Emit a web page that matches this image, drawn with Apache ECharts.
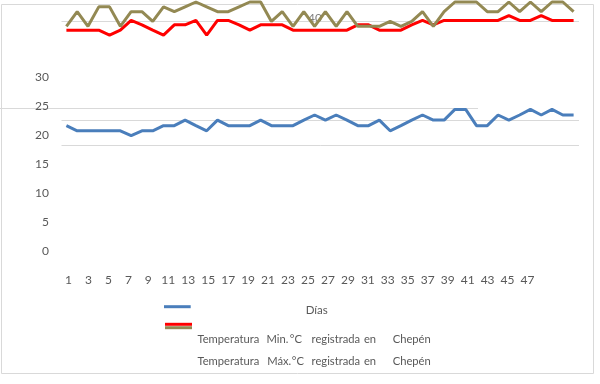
<!DOCTYPE html>
<html><head><meta charset="utf-8">
<script src="https://cdn.jsdelivr.net/npm/echarts@6/dist/echarts.min.js"></script>
<style>html,body{margin:0;padding:0;background:#fff}#c{width:600px;height:384px}</style>
</head><body><div id="c"></div>
<script>
// Categories (days)
const days = ['1','2','3','4','5','6','7','8','9','10','11','12','13','14','15','16','17','18','19','20','21','22','23','24',
  '25','26','27','28','29','30','31','32','33','34','35','36','37','38','39','40','41','42','43','44','45','46','47','48'];
// Y tick labels shown at left
const yTicks = [0,5,10,15,20,25,30];
// Series values (as plotted)
const seriesDias = [18.55,17.5,17.5,17.5,17.5,17.5,16.5,17.5,17.5,18.55,18.55,19.7,18.55,17.5,19.7,18.55,18.55,18.55,19.7,18.55,18.55,18.55,19.7,20.75,
  19.7,20.75,19.7,18.55,18.55,19.7,17.5,18.55,19.7,20.75,19.7,19.7,21.9,21.9,18.55,18.55,20.75,19.7,20.75,21.9,20.75,21.9,20.75,20.75];
const seriesMin = [38.2,38.2,38.2,38.2,37.2,38.2,40.2,39.3,38.2,37.2,39.3,39.3,40.2,37.2,40.2,40.2,39.3,38.2,39.3,39.3,39.3,38.2,38.2,38.2,
  38.2,38.2,38.2,39.3,39.3,38.2,38.2,38.2,39.3,40.2,39.3,40.2,40.2,40.2,40.2,40.2,40.2,41.2,40.2,40.2,41.2,40.2,40.2,40.2];
const seriesMax = [39,42,39,43,43,39,42,42,40,43,42,43,44,43,42,42,43,44,44,40,42,39,42,39,
  42,39,42,39,39,39,40,39,40,42,39,42,44,44,44,42,42,44,42,44,42,44,44,42];
const names = ['Días','Temperatura Min. °C registrada en Chepén','Temperatura Máx. °C registrada en Chepén'];
const colors = ['#4a7ebb','#ff0000','#938953'];

const TXT = '#595959', FONT = 'Lato';
// legend words (text, centre x) — justified layout
const legendWordsMin = [['Temperatura',228.3],['Min.',277.5],['°C',295.8],['registrada',335.8],['en',370],['Chepén',411.7]];
const legendWordsMax = [['Temperatura',228.3],['Máx.',279.2],['°C',297.8],['registrada',335.8],['en',370],['Chepén',411.7]];
function words(list, y){
  return list.map(([t,x]) => ({type:'text', x:x, y:y, silent:true,
    style:{text:t, fill:TXT, fontSize:11.2, fontFamily:FONT, align:'center', verticalAlign:'middle'}}));
}
const hidden = 'rgba(0,0,0,0)', gridC = '#d9d9d9';

const chart = echarts.init(document.getElementById('c'), null, {renderer:'canvas'});
chart.setOption({
  animation:false,
  backgroundColor:'#fff',
  textStyle:{fontFamily:FONT},
  grid:[
    {left:63.5, right:57.5, top:77.3, bottom:133.3},
    {left:61, right:21, top:21.44, bottom:241.06},
    {left:61.5, right:21, top:21, bottom:239}
  ],
  xAxis:[
    {gridIndex:0, type:'category', data:days, boundaryGap:true,
     axisLine:{show:false}, axisTick:{show:false}, splitLine:{show:false},
     axisLabel:{interval:1, margin:23, color:TXT, fontSize:12, fontFamily:FONT}},
    {gridIndex:1, type:'category', data:days, boundaryGap:true, show:false},
    {gridIndex:2, type:'value', show:false}
  ],
  yAxis:[
    {gridIndex:0, type:'value', min:yTicks[0], max:yTicks[yTicks.length-1], interval:5,
     axisLine:{show:false}, axisTick:{show:false}, splitLine:{show:false},
     axisLabel:{margin:14.5, color:TXT, fontSize:12, fontFamily:FONT}},
    {gridIndex:1, type:'value', min:15, max:40, interval:5,
     axisLine:{show:false}, axisTick:{show:false}, splitLine:{show:false},
     axisLabel:{inside:true, margin:247, color:'#7f7f7f', fontSize:12, fontFamily:FONT,
       formatter: v => v === 40 ? '{a|40}' : '',
       rich:{a:{color:'#7f7f7f', fontSize:12, fontFamily:FONT, padding:[0,0,6,0]}}}},
    {gridIndex:2, type:'value', min:0, max:5, interval:1,
     axisLine:{show:false}, axisTick:{show:false}, axisLabel:{show:false},
     splitLine:{show:true, lineStyle:{width:1, color:[gridC,gridC,hidden,hidden,hidden,gridC]}}}
  ],
  series:[
    {name:names[0], type:'line', xAxisIndex:1, yAxisIndex:1, data:seriesDias, symbol:'none', clip:false,
     lineStyle:{color:colors[0], width:3}, itemStyle:{color:colors[0]}, z:3},
    {name:names[1], type:'line', xAxisIndex:1, yAxisIndex:1, data:seriesMin, symbol:'none', clip:false,
     lineStyle:{color:colors[1], width:3}, itemStyle:{color:colors[1]}, z:4},
    {name:names[2], type:'line', xAxisIndex:1, yAxisIndex:1, data:seriesMax, symbol:'none', clip:false,
     lineStyle:{color:colors[2], width:3}, itemStyle:{color:colors[2]}, z:5}
  ],
  graphic:[
    {type:'rect', silent:true, z:-10, shape:{x:1.5, y:4.5, width:592, height:369}, style:{fill:'none', stroke:gridC, lineWidth:1}},
    {type:'line', silent:true, z:-10, shape:{x1:0, y1:108.5, x2:478, y2:108.5}, style:{stroke:gridC, lineWidth:1}},
    {type:'line', silent:true, shape:{x1:164, y1:306.7, x2:190.7, y2:306.7}, style:{stroke:colors[0], lineWidth:3}},
    {type:'line', silent:true, shape:{x1:165, y1:327.7, x2:192, y2:327.7}, style:{stroke:colors[2], lineWidth:3}},
    {type:'line', silent:true, shape:{x1:165, y1:324.3, x2:192, y2:324.3}, style:{stroke:colors[1], lineWidth:3}},
    {type:'text', x:316.7, y:310, silent:true, style:{text:names[0], fill:TXT, fontSize:11.5, fontFamily:FONT, align:'center', verticalAlign:'middle'}}
  ].concat(words(legendWordsMin, 339.3), words(legendWordsMax, 361))
});
</script></body></html>
